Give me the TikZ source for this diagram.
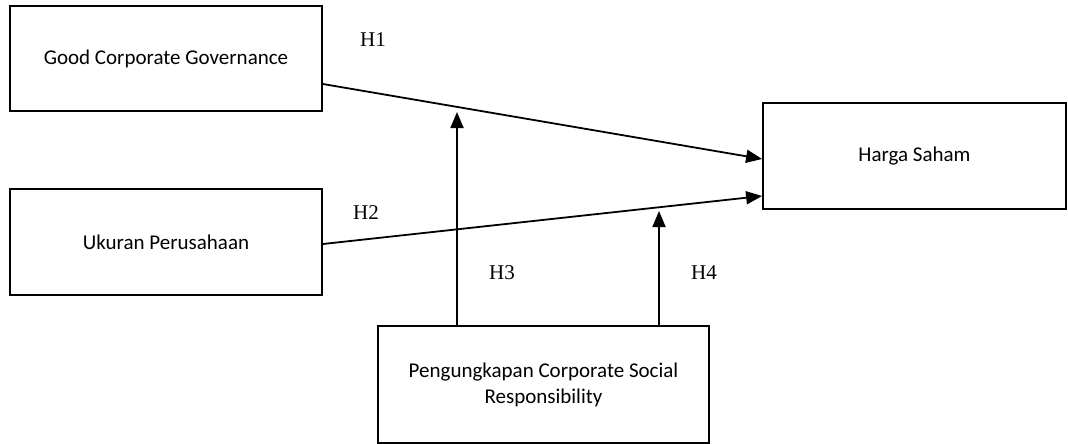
\documentclass[tikz,border=0pt]{standalone}
\usepackage{fontspec}
\setmainfont{Carlito}
\newfontfamily\hfont{Liberation Serif}
\usetikzlibrary{arrows.meta,calc}
\begin{document}
\begin{tikzpicture}[x=1pt,y=-1pt,
  box/.style={draw=black,line width=1.8pt,rectangle,inner sep=0pt,align=center,
    font=\fontsize{21}{26}\selectfont},
  conn/.style={line width=1.8pt,-{Triangle[length=16pt,width=13pt]}},
  hlabel/.style={font=\hfont\fontsize{21}{25}\selectfont}]
\useasboundingbox (0,0) rectangle (1068,444);
\node[box,minimum width=312pt,minimum height=105pt] (gcg) at (166,58.5) {Good Corporate Governance};
\node[box,minimum width=312pt,minimum height=106pt] (uk) at (166,242) {Ukuran Perusahaan};
\node[box,minimum width=303pt,minimum height=106pt] (hs) at (914.5,156) {Harga Saham};
\node[box,minimum width=331pt,minimum height=117pt] (csr) at (543.5,384.5) {Pengungkapan Corporate Social\\Responsibility};
\coordinate (t3) at (457,112);
\coordinate (t4) at (659,211);
\draw[conn] ($(gcg.east)+(0,25.5)$) -- ($(hs.west)+(0,3)$);
\draw[conn] ($(uk.east)+(0,2)$) -- ($(hs.west)+(0,40)$);
\draw[conn] (csr.north -| t3) -- (t3);
\draw[conn] (csr.north -| t4) -- (t4);
\node[hlabel] (h1) at (373,40) {H1};
\node[hlabel] (h2) at (366,213) {H2};
\node[hlabel] (h3) at (502,273) {H3};
\node[hlabel] (h4) at (704,273) {H4};
\end{tikzpicture}
\end{document}
